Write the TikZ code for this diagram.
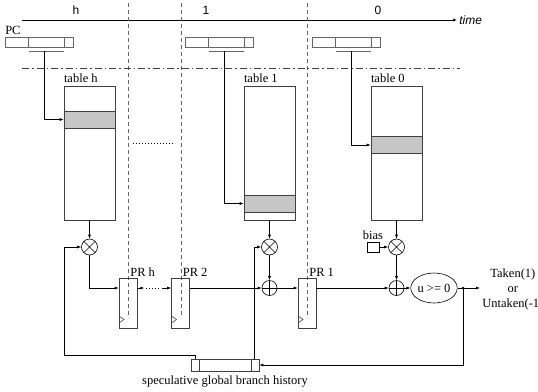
\documentclass[tikz,border=0pt]{standalone}
\usepackage{fontspec}
\setmainfont{Liberation Serif}
\newfontfamily\helv{Liberation Sans}
\usetikzlibrary{calc, arrows.meta, shapes.geometric}

\begin{document}
\begin{tikzpicture}[x=1pt, y=-1pt, line width=0.6pt,
    >={Latex[length=4pt,width=3pt]},
    every node/.style={font=\fontsize{12.5}{15}\selectfont, inner sep=0pt},
    tbl/.style={draw=black!75, minimum width=51pt, minimum height=134pt},
    band/.style={draw=black!75, fill=gray!45, minimum width=51pt, minimum height=17pt},
    pcreg/.style={draw=black!60, minimum width=68pt, minimum height=10pt,
        path picture={\draw[black!60] ([xshift=23pt]path picture bounding box.south west) -- ([xshift=23pt]path picture bounding box.north west)
            ([xshift=59pt]path picture bounding box.south west) -- ([xshift=59pt]path picture bounding box.north west);}},
    histreg/.style={draw=black!75, minimum width=68pt, minimum height=12pt,
        path picture={\draw ([xshift=8pt]path picture bounding box.south west) -- ([xshift=8pt]path picture bounding box.north west)
            ([xshift=60pt]path picture bounding box.south west) -- ([xshift=60pt]path picture bounding box.north west);}},
    prreg/.style={draw=black!75, minimum width=18pt, minimum height=50pt,
        path picture={\draw ([yshift=5pt]path picture bounding box.south west) -- ++(5pt,3.5pt) -- ++(-5pt,3.5pt);}},
    mul/.style={circle, draw, minimum size=16pt,
        path picture={\draw (path picture bounding box.north west) -- (path picture bounding box.south east)
            (path picture bounding box.south west) -- (path picture bounding box.north east);}},
    add/.style={circle, draw, minimum size=15pt,
        path picture={\draw (path picture bounding box.north) -- (path picture bounding box.south)
            (path picture bounding box.west) -- (path picture bounding box.east);}},
    sep/.style={black!60, dash pattern=on 4pt off 3pt},
    tap/.style={black!60, line width=1.2pt},
    sans/.style={font=\helv\fontsize{12}{14}\selectfont}]
  \useasboundingbox (0,0) rectangle (538,391);

  % time axis and stages
  \draw[->] (22,20) -- (457,20);
  \node[sans, anchor=west, font=\helv\itshape\fontsize{12}{14}\selectfont] (time) at (459,20) {time};
  \node[sans] (sh) at (76,10) {h};
  \node[sans] (s1) at (206,10) {1};
  \node[sans] (s0) at (378,10) {0};
  \draw[sep] (128,3) -- (128,318);
  \draw[sep] (181,3) -- (181,318);
  \draw[sep] (307,3) -- (307,318);
  \draw[black!75, dash pattern=on 7pt off 3pt on 1.5pt off 3pt] (22,68) -- (460,68);

  % PC registers
  \node[pcreg] (PCh) at (39,42) {};
  \node[pcreg] (PC1) at (219,42) {};
  \node[pcreg] (PC0) at (346,42) {};
  \node[anchor=south west] (pclbl) at (5,35) {PC};
  \foreach \r in {PCh,PC1,PC0}
    \draw[tap] ([xshift=24pt,yshift=-4pt]\r.south west) -- ++(35pt,0);

  % tables
  \node[tbl] (Th) at (89.5,153) {};
  \node[tbl] (T1) at (269.5,153) {};
  \node[tbl] (T0) at (396.5,153) {};
  \node[band] (Bh) at (89.5,119.5) {};
  \node[band] (B1) at (269.5,203.5) {};
  \node[band] (B0) at (396.5,145) {};
  \node[anchor=south west] at ([yshift=3pt]Th.north west) {table h};
  \node[anchor=south west] at ([yshift=3pt]T1.north west) {table 1};
  \node[anchor=south west] at ([yshift=3pt]T0.north west) {table 0};
  \draw[line width=1pt, dotted] (133,143) -- (175,143);

  \draw[->] ([xshift=40pt,yshift=-4pt]PCh.south west) |- (Bh.west);
  \draw[->] ([xshift=40pt,yshift=-4pt]PC1.south west) |- (B1.west);
  \draw[->] ([xshift=40pt,yshift=-4pt]PC0.south west) |- (B0.west);

  % datapath
  \node[mul] (Mh) at (89.5,247) {};
  \node[mul] (M1) at (269.5,247) {};
  \node[mul] (M0) at (396.5,247) {};
  \node[add] (A1) at (269.5,288) {};
  \node[add] (A0) at (396.5,288) {};
  \node[draw, ellipse, minimum width=42pt, minimum height=30pt] (E) at (434,288) {u >= 0};
  \node[draw, minimum width=12pt, minimum height=10pt] (bias) at (373,247) {};
  \node[anchor=south] at ([yshift=2pt]bias.north) {bias};
  \node[prreg] (PRh) at (128,303) {};
  \node[prreg] (PR2) at (180.5,303) {};
  \node[prreg] (PR1) at (307,303) {};
  \node[anchor=south west] at ([xshift=2pt,yshift=1pt]PRh.north) {PR h};
  \node[anchor=south west] at ([xshift=2pt,yshift=1pt]PR2.north) {PR 2};
  \node[anchor=south west] at ([xshift=2pt,yshift=1pt]PR1.north) {PR 1};
  \node[histreg] (H) at (225,365) {};
  \node[anchor=north] at ([yshift=-4pt]H.south) {speculative global branch history};
  \node[anchor=west, align=center] (res) at (482,289) {Taken(1)\\or\\Untaken(-1)};

  \draw[->] (Th.south) -- (Mh.north);
  \draw[->] (T1.south) -- (M1.north);
  \draw[->] (T0.south) -- (M0.north);
  \draw[->] (bias.east) -- (M0.west);
  \draw[->] (Mh.south) |- (PRh.west |- A1.west);
  \draw[->] (PRh.east |- A1.west) -- ++(7,0) coordinate (d1);
  \draw[line width=1pt, dotted] ([xshift=2pt]d1) -- ++(14,0) coordinate (d2);
  \draw[->] ([xshift=2pt]d2) -- (PR2.west |- A1.west);
  \draw[->] (PR2.east |- A1.west) -- (A1.west);
  \draw[->] (M1.south) -- (A1.north);
  \draw[->] (A1.east) -- (PR1.west |- A1.east);
  \draw[->] (PR1.east |- A0.west) -- (A0.west);
  \draw[->] (M0.south) -- (A0.north);
  \draw[->] (A0.east) -- (E.west);
  \coordinate (J) at (463,288);
  \draw[->] (E.east) -- (480,288);
  \fill (J) circle (1.3);
  \draw[->] (J) |- (H.east);
  \draw[->] ([xshift=5pt]H.north west) -- ++(0,-3) -| (64,247) -- (Mh.west);
  \draw[->] ([xshift=-5pt]H.north east) |- (M1.west);
\end{tikzpicture}
\end{document}
